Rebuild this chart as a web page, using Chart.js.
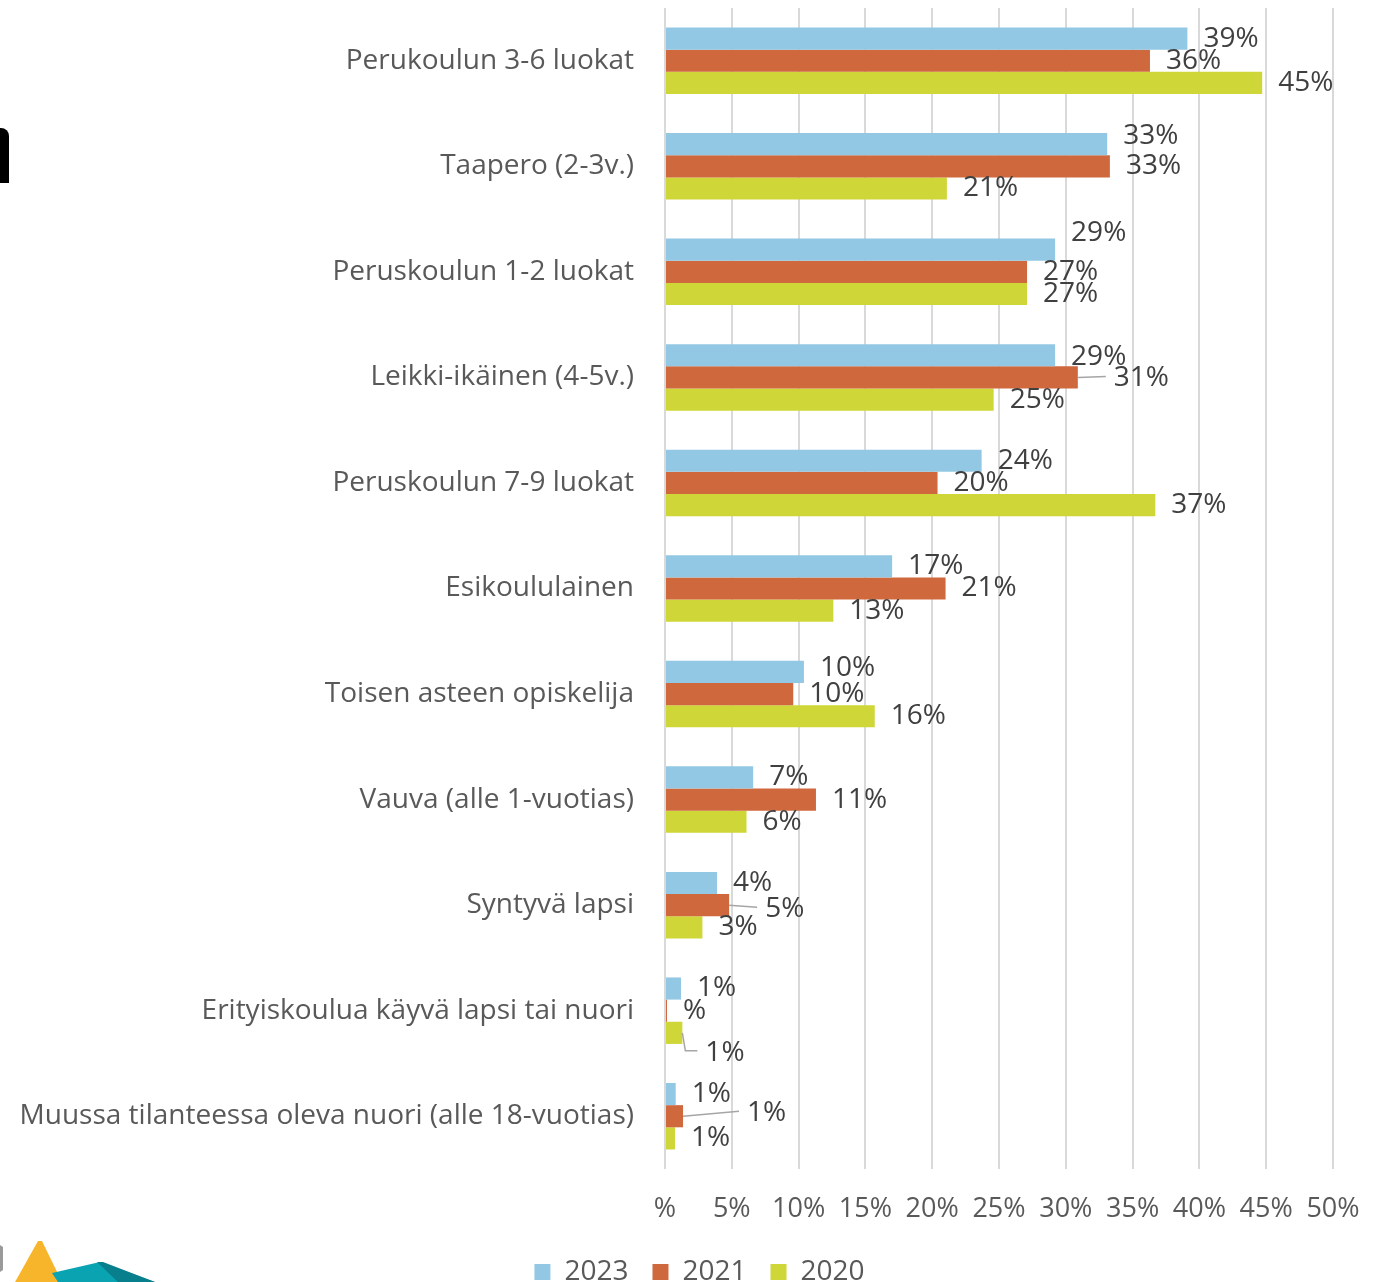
<!DOCTYPE html>
<html>
<head>
<meta charset="utf-8">
<script src="https://cdn.jsdelivr.net/npm/chart.js@4.4.1/dist/chart.umd.min.js"></script>
<style>
  html, body { margin: 0; padding: 0; background: #fff; overflow: hidden; }
  #wrap { position: relative; width: 1375px; height: 1282px; overflow: hidden; }
  #box { position: absolute; left: 0; top: 0; width: 1375px; height: 1296px; }
  #edge { position: absolute; left: 0; top: 128px; width: 9px; height: 55px; background: #000; border-top-right-radius: 8px; }
  #logo { position: absolute; left: 0; top: 1230px; }
</style>
</head>
<body>
<div id="wrap">
  <div id="box"><canvas id="chart"></canvas></div>
  <div id="edge"></div>
  <svg id="logo" width="170" height="52" viewBox="0 0 170 52">
    <polygon points="0,15 3,17 3,40 0,42" fill="#9a9a9a" />
    <polygon points="15,52 38,11 42,11 62,52" fill="#f7b52c" />
    <polygon points="52,43 100,32 155,52 58,52" fill="#0aa3b1" />
    <polygon points="97,32 103,32 155,52 118,52" fill="#087f8c" />
  </svg>
</div>
<script>
const categories = [
  "Perukoulun 3-6 luokat",
  "Taapero (2-3v.)",
  "Peruskoulun 1-2 luokat",
  "Leikki-ikäinen (4-5v.)",
  "Peruskoulun 7-9 luokat",
  "Esikoululainen",
  "Toisen asteen opiskelija",
  "Vauva (alle 1-vuotias)",
  "Syntyvä lapsi",
  "Erityiskoulua käyvä lapsi tai nuori",
  "Muussa tilanteessa oleva nuori (alle 18-vuotias)",
];
const seriesNames = ["2023", "2021", "2020"];
const values2023 = [39.1, 33.1, 29.2, 29.2, 23.7, 17.0, 10.4, 6.6, 3.9, 1.2, 0.8];
const values2021 = [36.3, 33.3, 27.1, 30.9, 20.4, 21.0, 9.6, 11.3, 4.8, 0.15, 1.35];
const values2020 = [44.7, 21.1, 27.1, 24.6, 36.7, 12.6, 15.7, 6.1, 2.8, 1.3, 0.75];
const xTicks = [0, 5, 10, 15, 20, 25, 30, 35, 40, 45, 50];

const colors = ["#93c8e4", "#cf683d", "#cfd637"];
const FONT = "'Open Sans', sans-serif";

// label nudges: "dataset-index" -> shift in px, leader = draw connector line
const nudges = {
  "0-1": { dx: 0, dy: -8 },
  "0-2": { dx: 0, dy: -17 },
  "0-3": { dx: 0, dy: 2 },
  "1-3": { dx: 20, dy: 1, leader: true },
  "0-6": { dx: 0, dy: -4 },
  "1-8": { dx: 20, dy: 4, leader: true },
  "2-9": { dx: 7, dy: 20, leader: "elbow" },
  "1-10": { dx: 48, dy: -3, leader: true },
};

function pctLabel(v) {
  const r = Math.round(v);
  return r === 0 ? "%" : r + "%";
}

const barLabels = {
  id: "barLabels",
  afterDatasetsDraw(chart) {
    const ctx = chart.ctx;
    ctx.save();
    ctx.font = "28px " + FONT;
    ctx.fillStyle = "#404040";
    ctx.textAlign = "left";
    ctx.textBaseline = "middle";
    chart.data.datasets.forEach((ds, di) => {
      chart.getDatasetMeta(di).data.forEach((bar, i) => {
        const n = nudges[di + "-" + i] || { dx: 0, dy: 0 };
        const x = bar.x + 16 + n.dx;
        const y = bar.y + n.dy;
        if (n.leader) {
          ctx.strokeStyle = "#a6a6a6";
          ctx.lineWidth = 1.5;
          ctx.beginPath();
          ctx.moveTo(bar.x, bar.y);
          if (n.leader === "elbow") {
            ctx.lineTo(bar.x + 3, y - 2);
            ctx.lineTo(x - 8, y - 2);
          } else {
            ctx.lineTo(x - 8, y - 2);
          }
          ctx.stroke();
        }
        ctx.fillText(pctLabel(ds.data[i]), x, y);
      });
    });
    ctx.restore();
  },
};

// legend in the reference sits a bit right of the canvas centre
const legendShift = {
  id: "legendShift",
  afterLayout(chart) {
    chart.legend.left += 66;
  },
};

new Chart(document.getElementById("chart"), {
  type: "bar",
  data: {
    labels: categories,
    datasets: [values2023, values2021, values2020].map((data, i) => ({
      label: seriesNames[i],
      data,
      backgroundColor: colors[i],
      borderWidth: 0,
      barPercentage: 1,
      categoryPercentage: 0.63,
    })),
  },
  options: {
    indexAxis: "y",
    responsive: true,
    maintainAspectRatio: false,
    animation: false,
    layout: { padding: { top: 8, right: 42, left: 0, bottom: 0 } },
    plugins: {
      tooltip: { enabled: false },
      legend: {
        position: "bottom",
        labels: {
          boxWidth: 16,
          boxHeight: 16,
          padding: 24,
          color: "#595959",
          font: { family: FONT, size: 28 },
        },
      },
    },
    scales: {
      x: {
        min: 0,
        max: 50,
        afterBuildTicks: (scale) => { scale.ticks = xTicks.map((v) => ({ value: v })); },
        afterFit: (scale) => {
          scale.height = 65;
          scale.paddingLeft = 0;
          scale.paddingRight = 0;
        },
        grid: { color: "#d9d9d9", lineWidth: 2, drawTicks: false },
        border: { display: false },
        ticks: {
          padding: 24,
          color: "#595959",
          font: { family: FONT, size: 27 },
          callback: (v) => (v === 0 ? "%" : v + "%"),
        },
      },
      y: {
        afterFit: (scale) => {
          scale.width = 665;
          scale.paddingTop = 0;
          scale.paddingBottom = 0;
        },
        grid: { display: false, drawTicks: false },
        border: { display: false },
        ticks: {
          padding: 31,
          color: "#595959",
          font: { family: FONT, size: 28 },
        },
      },
    },
  },
  plugins: [barLabels, legendShift],
});
</script>
</body>
</html>
